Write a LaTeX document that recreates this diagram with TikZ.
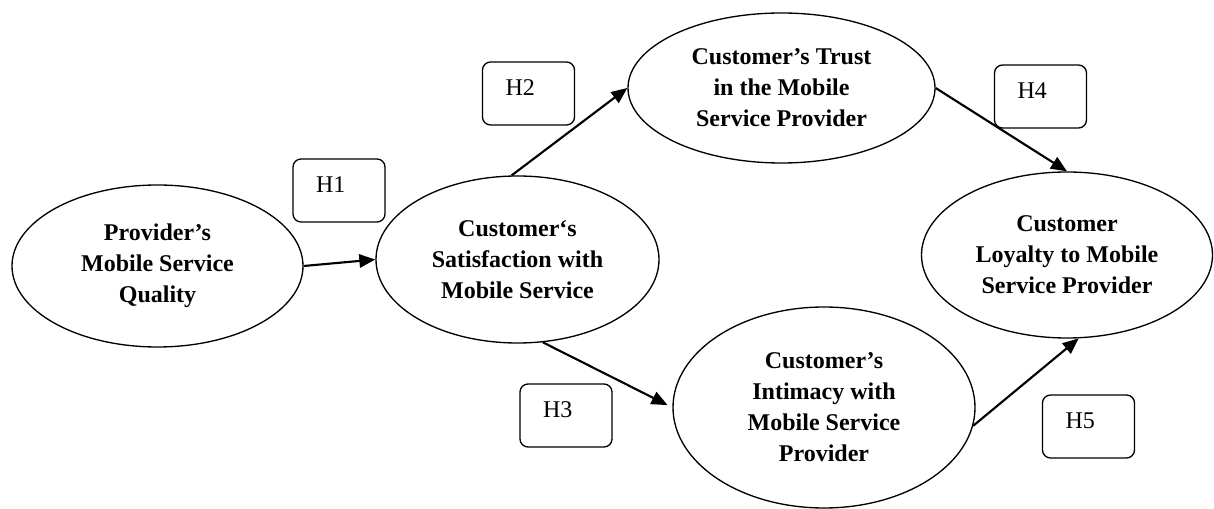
\documentclass[tikz,border=0pt]{standalone}
\usepackage{fontspec}
\setmainfont{Liberation Serif}
\usetikzlibrary{shapes.geometric,arrows.meta}
\begin{document}
\begin{tikzpicture}[x=0.75pt,y=-0.75pt,
  construct/.style={ellipse,draw,line width=1pt,inner sep=0pt,align=center,
    font=\fontsize{18}{23.25}\selectfont\bfseries},
  hyp/.style={draw,rounded corners=6pt,line width=1pt,inner sep=0pt,
    minimum width=69pt,minimum height=47.25pt,text width=34.5pt,align=left,
    text height=12pt,text depth=8.5pt,font=\fontsize{18}{22}\selectfont},
  link/.style={line width=1.6pt,-{Triangle[length=12pt,width=10pt]}}]
\useasboundingbox (0,0) rectangle (1214,509);

\node[construct,minimum width=218.25pt,minimum height=121.5pt] (e1) at (157.5,266)
  {Provider’s\\Mobile Service\\Quality};
\node[construct,minimum width=212.25pt,minimum height=125.25pt] (e2) at (517.5,259.5)
  {Customer‘s\\Satisfaction with\\Mobile Service};
\node[construct,minimum width=230.25pt,minimum height=112.5pt] (e3) at (781.5,88)
  {Customer’s Trust\\in the Mobile\\Service Provider};
\node[construct,minimum width=218.25pt,minimum height=124.5pt] (e4) at (1067,255)
  {Customer\\Loyalty to Mobile\\Service Provider};
\node[construct,minimum width=226.5pt,minimum height=150.75pt] (e5) at (824,407.5)
  {Customer’s\\Intimacy with\\Mobile Service\\Provider};

\node[hyp] (h1) at (339,190.5) {H1};
\node[hyp] (h2) at (528.5,93.5) {H2};
\node[hyp] (h3) at (566,415.5) {H3};
\node[hyp] (h4) at (1040.5,96.5) {H4};
\node[hyp] (h5) at (1088.5,426.5) {H5};

\draw[link] (e1.east) -- (e2.west);
\draw[link] (e2.94) -- (e3.west);
\draw[link,shorten >=4pt] (e2.-73) -- (e5.west);
\draw[link] (e3.east) -- (e4.north);
\draw[link] (e5.-7.5) -- (e4.-82);
\end{tikzpicture}
\end{document}
